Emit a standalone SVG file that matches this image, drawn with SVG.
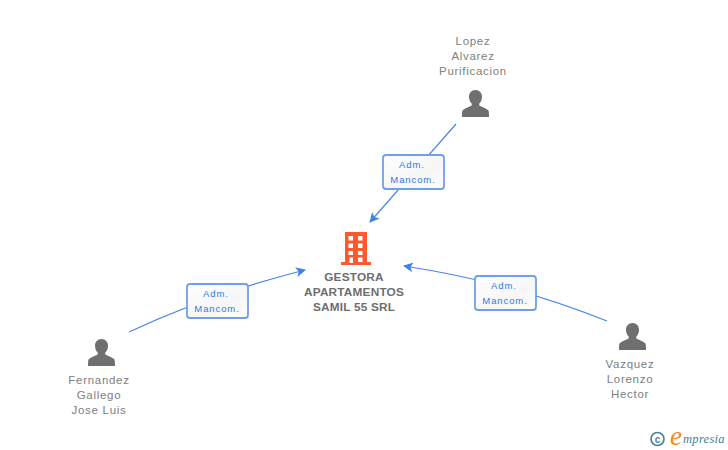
<svg xmlns="http://www.w3.org/2000/svg" width="728" height="450" viewBox="0 0 728 450">
<style>
text{font-family:"Liberation Sans",Arial,sans-serif}
.n{font-size:11.5px;fill:#808080;text-anchor:middle;letter-spacing:.7px}
.c{font-size:11.800px;fill:#6e6e6e;text-anchor:middle;font-weight:bold;letter-spacing:.2px}
.l{font-size:9.500px;fill:#2f78e4;text-anchor:middle;letter-spacing:.9px}
.b{fill:url(#g);stroke:#6fa1e8;stroke-width:1.800}
.e{fill:none;stroke:#4a86e8;stroke-width:1.200;marker-end:url(#a)}
.p{fill:#6f6f6f}
</style>
<defs>
<linearGradient id="g" x1="0" y1="0" x2="1" y2="1"><stop offset="0" stop-color="#fff"/><stop offset=".6" stop-color="#f6f6f6"/><stop offset="1" stop-color="#fff"/></linearGradient>
<marker id="a" viewBox="0 0 10 10" refX="9" refY="5" markerWidth="10" markerHeight="10" markerUnits="userSpaceOnUse" orient="auto"><path d="M0 0L10 5L0 10L2.500 5Z" fill="#3f82e6"/></marker>
<path id="u" d="M0 -27C-4 -27 -6.500 -24 -6.500 -20.500C-6.500 -17.500 -5.500 -15 -3.800 -13.500L-3.800 -11.500C-6 -10 -11 -9 -13 -6.500C-13.500 -5 -13.500 -2 -13.500 0L13.500 0C13.500 -2 13.500 -5 13 -6.500C11 -9 6 -10 3.800 -11.500L3.800 -13.500C5.500 -15 6.500 -17.500 6.500 -20.500C6.500 -24 4 -27 0 -27Z"/>
</defs>
<g id="connectors">
<path class="e" d="M456 124L370 222"/>
<path class="e" d="M129 332Q210 294 305 270"/>
<path class="e" d="M607 321Q510 282 404 266"/>
</g>
<g id="center">
<path fill="#fb5a2e" fill-rule="evenodd" d="M345 232H367V262H371V265H341V262H345ZM348.500 236V240.500H353V236ZM358 236V240.500H362.500V236ZM348.500 243.500V248H353V243.500ZM358 243.500V248H362.500V243.500ZM348.500 251V255H353V251ZM358 251V255H362.500V251ZM349.500 257.500V263H353V257.500ZM358 257.500V262H362.500V257.500Z"/>
<text class="c" x="354" y="281">GESTORA</text>
<text class="c" x="354" y="296">APARTAMENTOS</text>
<text class="c" x="354" y="311">SAMIL 55 SRL</text>
</g>
<g id="p-lopez">
<use href="#u" class="p" x="475.500" y="117"/>
<text class="n" x="473" y="45">Lopez</text>
<text class="n" x="473" y="60">Alvarez</text>
<text class="n" x="473" y="75">Purificacion</text>
</g>
<g id="p-fernandez">
<use href="#u" class="p" x="101.500" y="366"/>
<text class="n" x="99" y="384">Fernandez</text>
<text class="n" x="99" y="399">Gallego</text>
<text class="n" x="99" y="414">Jose Luis</text>
</g>
<g id="p-vazquez">
<use href="#u" class="p" x="632.500" y="350"/>
<text class="n" x="630" y="368">Vazquez</text>
<text class="n" x="630" y="383">Lorenzo</text>
<text class="n" x="630" y="398">Hector</text>
</g>
<g id="label-1">
<rect class="b" x="383" y="155" width="61" height="34" rx="3"/>
<text class="l" x="412" y="168">Adm.</text>
<text class="l" x="413" y="183">Mancom.</text>
</g>
<g id="label-2">
<rect class="b" x="187" y="284" width="61" height="34" rx="3"/>
<text class="l" x="216" y="297">Adm.</text>
<text class="l" x="217" y="312">Mancom.</text>
</g>
<g id="label-3">
<rect class="b" x="475" y="276" width="61" height="34" rx="3"/>
<text class="l" x="504" y="289">Adm.</text>
<text class="l" x="505" y="304">Mancom.</text>
</g>
<g id="logo">
<circle cx="657.500" cy="439" r="6.500" fill="none" stroke="#4a8296" stroke-width="1.700"/>
<text x="657.500" y="442.500" font-size="10" font-weight="bold" fill="#4a8296" text-anchor="middle">c</text>
<text x="670" y="445" font-size="27" font-style="italic" fill="#f08a1d" style="font-family:'Liberation Serif',serif">e</text>
<text x="683" y="443" font-size="12.500" font-style="italic" fill="#3f7f93" style="font-family:'Liberation Serif',serif" letter-spacing=".3">mpresia</text>
</g>
</svg>
